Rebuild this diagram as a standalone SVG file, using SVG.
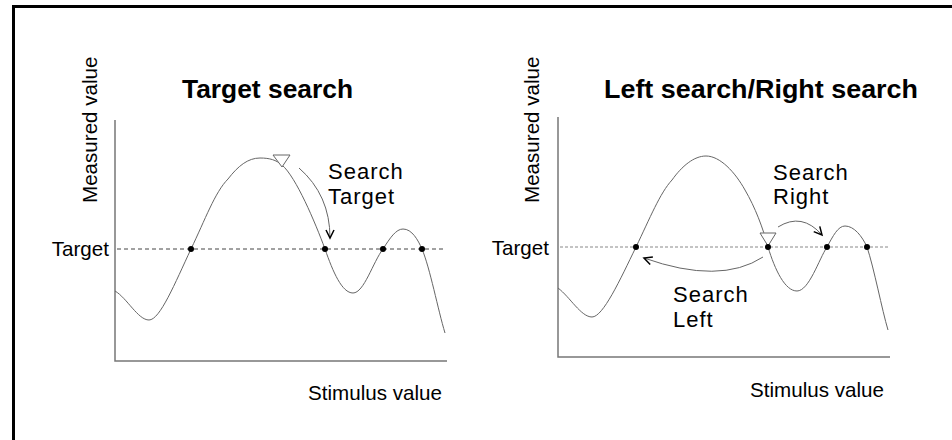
<svg xmlns="http://www.w3.org/2000/svg" width="952" height="440" viewBox="0 0 952 440">
<style>
.t{font-family:"Liberation Sans",Arial,sans-serif;fill:#000}
.lab{font-size:20.6px}
.ttl{font-size:26px;font-weight:bold}
.srch{font-size:22px;letter-spacing:1px}
.axis{stroke:#777;stroke-width:1.5;fill:none}
.curve{stroke:#666;stroke-width:1;fill:none}
.tgt1{stroke:#444;stroke-width:1;stroke-dasharray:4 3}
.tgt2{stroke:#888;stroke-width:1;stroke-dasharray:3 2}
.dot{fill:#000}
.tri{fill:#fff;stroke:#666;stroke-width:1}
.arr{stroke:#666;stroke-width:1;fill:none;marker-end:url(#ah)}
</style>
<defs>
<marker id="ah" markerUnits="userSpaceOnUse" markerWidth="12" markerHeight="12" refX="9" refY="5" orient="auto">
<path d="M1,1 L9,5 L1,9" fill="none" stroke="#000" stroke-width="1.5"/>
</marker>
</defs>
<rect x="13.5" y="6.5" width="960" height="460" fill="none" stroke="#000" stroke-width="3"/>

<g id="left-panel">
<text class="t ttl" x="182" y="98" textLength="171" lengthAdjust="spacingAndGlyphs">Target search</text>
<text class="t lab" transform="translate(97,203) rotate(-90)">Measured value</text>
<text class="t lab" x="109" y="256" text-anchor="end">Target</text>
<text class="t lab" x="442" y="400" text-anchor="end">Stimulus value</text>
<path class="axis" d="M115,120 V361 H447"/>
<line class="tgt1" x1="117" y1="249" x2="446" y2="249"/>
<path class="curve" d="M115,291 C127,298 138,320 149,320 C160,320 175,283 191,249 C205,220 215,192 228,179 C238,166 248,158 260,158 C270,158 276,160 282,165 C296,177 315,222 325,249 C333,272 342,293 353,293 C364,293 373,262 383,249 C390,238 396,229 403,229 C412,229 418,240 422,249 C430,268 438,310 445,333"/>
<polygon class="tri" points="273,155 290,155 282,167"/>
<circle class="dot" cx="191" cy="249" r="3"/>
<circle class="dot" cx="325" cy="249" r="3"/>
<circle class="dot" cx="383" cy="249" r="3"/>
<circle class="dot" cx="422" cy="249" r="3"/>
<text class="t srch" x="328" y="179">Search</text>
<text class="t srch" x="328" y="204">Target</text>
</g>

<g id="right-panel">
<text class="t ttl" x="604" y="98" textLength="314" lengthAdjust="spacingAndGlyphs">Left search/Right search</text>
<text class="t lab" transform="translate(539,203) rotate(-90)">Measured value</text>
<text class="t lab" x="549" y="255" text-anchor="end">Target</text>
<text class="t lab" x="884" y="397" text-anchor="end">Stimulus value</text>
<path class="axis" d="M558,117 V357 H890"/>
<line class="tgt2" x1="560" y1="247" x2="889" y2="247"/>
<path class="curve" d="M558,288 C570,297 581,317 592,317 C603,317 620,280 636,247 C650,218 660,193 672,180 C682,166 694,156 706,156 C720,156 735,172 745,190 C755,207 763,228 768,247 C775,270 785,291 797,291 C809,291 819,259 827,247 C833,236 838,226 845,226 C854,226 862,236 867,247 C874,268 882,310 888,330"/>
<polygon class="tri" points="760,233 776,233 768,246"/>
<circle class="dot" cx="636" cy="247" r="3"/>
<circle class="dot" cx="768" cy="247" r="3"/>
<circle class="dot" cx="827" cy="247" r="3"/>
<circle class="dot" cx="867" cy="247" r="3"/>
<text class="t srch" x="773" y="180">Search</text>
<text class="t srch" x="773" y="204">Right</text>
<text class="t srch" x="673" y="302">Search</text>
<text class="t srch" x="673" y="327">Left</text>
</g>

<g id="connectors">
<path class="arr" d="M299,168 Q330,195 330,238"/>
<path class="arr" d="M778,227 Q802,212 822,235"/>
<path class="arr" d="M763,257 Q720,285 644,258"/>
</g>
</svg>
